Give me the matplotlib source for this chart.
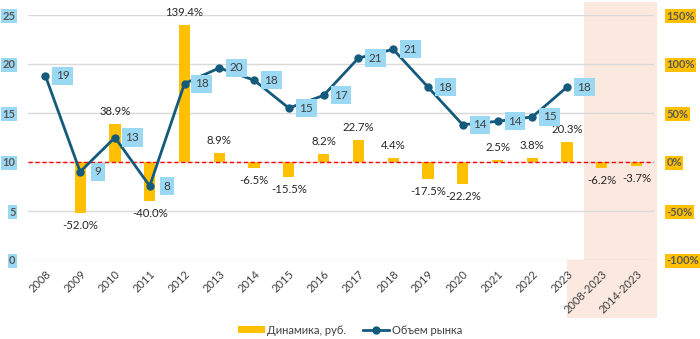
import matplotlib
matplotlib.use("Agg")
import matplotlib.pyplot as plt
from matplotlib.patches import Rectangle, Patch
from matplotlib.lines import Line2D
import numpy as np

plt.rcParams['font.family'] = ['Lato', 'DejaVu Sans']

# data
categories = ["2008", "2009", "2010", "2011", "2012", "2013", "2014", "2015",
              "2016", "2017", "2018", "2019", "2020", "2021", "2022", "2023",
              "2008-2023", "2014-2023"]
market = [18.8, 9.0, 12.5, 7.55, 18.0, 19.6, 18.35, 15.5,
          16.8, 20.6, 21.5, 17.65, 13.8, 14.15, 14.6, 17.65]
market_labels = ["19", "9", "13", "8", "18", "20", "18", "15",
                 "17", "21", "21", "18", "14", "14", "15", "18"]
dynamics = [np.nan, -52.0, 38.9, -40.0, 139.4, 8.9, -6.5, -15.5,
            8.2, 22.7, 4.4, -17.5, -22.2, 2.5, 3.8, 20.3, -6.2, -3.7]
left_ticks = [0, 5, 10, 15, 20, 25]
right_ticks = [-100, -50, 0, 50, 100, 150]

GOLD = "#FFC000"
NAVY = "#145A7C"
SKY = "#9AD8F3"
SHADE = "#FBE8DF"
TXT = "#404040"

W, H = 700, 339
fig = plt.figure(figsize=(W / 100, H / 100), dpi=100)

# shaded band behind the summary columns (figure pixels)
px = lambda x, y: (x / W, 1 - y / H)
fig.patches.append(Rectangle(px(584, 260), 73 / W, 258 / H, transform=fig.transFigure,
                             facecolor=SHADE, edgecolor="none", zorder=-5))
fig.patches.append(Rectangle(px(567, 318), 90 / W, 58 / H, transform=fig.transFigure,
                             facecolor=SHADE, edgecolor="none", zorder=-5))

left, right, top, bottom = 28, 654, 15, 260
ax = fig.add_axes([left / W, 1 - bottom / H, (right - left) / W, (bottom - top) / H])
ax2 = ax.twinx()
ax.patch.set_visible(False)
ax2.patch.set_visible(False)

x = np.arange(len(categories))
xm = np.arange(len(market))

# bars on the percent axis
ax2.bar(x, dynamics, width=0.32, color=GOLD, zorder=2)
ax2.axhline(0, color="#FF0000", lw=1, dashes=(3, 2), zorder=3)
for xi, v in zip(x, dynamics):
    if np.isnan(v):
        continue
    off = 9 if v >= 0 else -9
    ax2.annotate(f"{v:.1f}%", (xi, v), xytext=(0, off), textcoords="offset points",
                 ha="center", va="center", fontsize=8.2, color="#262626", zorder=6,
                 annotation_clip=False)

# market line: left axis 10 == right axis 0%, 5 units == 50%
ax2.plot(xm, [(m - 10) * 10 for m in market], color=NAVY, lw=2, marker="o",
         markersize=5, zorder=4)
for xi, m, lab in zip(xm, market, market_labels):
    ax2.annotate(lab, (xi, (m - 10) * 10), xytext=(12.5, 0), textcoords="offset points",
                 ha="center", va="center", fontsize=8.5, color=TXT, zorder=7,
                 bbox=dict(boxstyle="square,pad=0.3", fc=SKY, ec="none"))

ax.set_xlim(-0.5, len(categories) - 0.5)
ax.set_ylim(0, 25)
ax2.set_ylim(-100, 150)
ax.set_yticks(left_ticks)
ax2.set_yticks(right_ticks)
ax2.set_yticklabels([f"{t}%" for t in right_ticks])
ax.grid(axis="y", color="#D9D9D9", lw=1)
ax.set_axisbelow(True)
for a in (ax, ax2):
    for s in a.spines.values():
        s.set_visible(False)
    a.tick_params(length=0)

ax.tick_params(axis="y", pad=9, labelsize=8, labelcolor="#595959")
ax2.tick_params(axis="y", pad=9, labelsize=8, labelcolor="#595959")
for t in ax.get_yticklabels():
    t.set_bbox(dict(boxstyle="square,pad=0.1", fc=SKY, ec="none"))
    t.set_fontweight("bold")
for t in ax2.get_yticklabels():
    t.set_bbox(dict(boxstyle="square,pad=0.1", fc=GOLD, ec="none"))
    t.set_fontweight("bold")

ax.set_xticks(x)
ax.set_xticklabels(categories, rotation=45, ha="right", va="top",
                   rotation_mode="anchor", fontsize=8, color=TXT)
ax.tick_params(axis="x", pad=6)

handles = [Patch(facecolor=GOLD, edgecolor="none"),
           Line2D([], [], color=NAVY, lw=2, marker="o", markersize=5)]
fig.legend(handles, ["Динамика, руб.", "Объем рынка"], loc="center",
           bbox_to_anchor=(0.5, 1 - 330 / H), ncol=2, frameon=False,
           fontsize=8, labelcolor=TXT, handlelength=2.4, handleheight=0.6,
           columnspacing=1.5, handletextpad=0.2)

fig.savefig("out.png", dpi=100)
